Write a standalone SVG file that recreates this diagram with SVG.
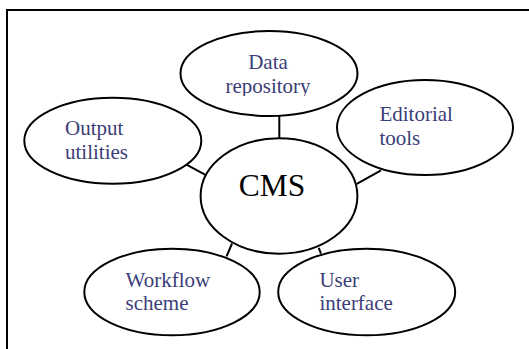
<svg xmlns="http://www.w3.org/2000/svg" width="529" height="349" viewBox="0 0 529 349">
<style>
.n{fill:#fff;stroke:#000;stroke-width:2}
.t{font-size:21px;fill:#3b3e78}
.c{stroke:#000;stroke-width:2;fill:none}
</style>
<defs><clipPath id="clipData"><rect x="180" y="30" width="180" height="66"/></clipPath></defs>
<rect x="0" y="0" width="529" height="349" fill="#fff"/>
<path d="M7 349 V10 H529" fill="none" stroke="#000" stroke-width="2"/>
<g id="connectors">
<line class="c" x1="279.3" y1="116" x2="279.3" y2="138.5"/>
<line class="c" x1="186.5" y1="164.6" x2="206.4" y2="175.4"/>
<line class="c" x1="381" y1="170.3" x2="356.8" y2="183.8"/>
<line class="c" x1="232" y1="243.5" x2="226.6" y2="256.3"/>
<line class="c" x1="318.7" y1="247.9" x2="321" y2="253.6"/>
</g>
<g font-family="Liberation Serif, Times New Roman, serif">
<g id="data">
<ellipse class="n" cx="269" cy="73.5" rx="88.5" ry="42.5"/>
<g clip-path="url(#clipData)">
<text class="t" x="268" y="68.5" text-anchor="middle">Data</text>
<text class="t" x="268" y="93" text-anchor="middle">repository</text>
</g>
</g>
<g id="editorial">
<ellipse class="n" cx="425" cy="127.5" rx="88" ry="47.5"/>
<text class="t" x="379.4" y="120.7">Editorial</text>
<text class="t" x="379.4" y="145">tools</text>
</g>
<g id="output">
<ellipse class="n" cx="112.8" cy="140.8" rx="88.5" ry="43"/>
<text class="t" x="65" y="135">Output</text>
<text class="t" x="65" y="158.5">utilities</text>
</g>
<g id="cms">
<ellipse class="n" cx="279" cy="196" rx="78.4" ry="57.7"/>
<text x="272" y="195.6" text-anchor="middle" font-size="31.5" fill="#000">CMS</text>
</g>
<g id="workflow">
<ellipse class="n" cx="172" cy="292" rx="87.7" ry="43.3"/>
<text class="t" x="125.5" y="286.7">Workflow</text>
<text class="t" x="125.5" y="310.3">scheme</text>
</g>
<g id="user">
<ellipse class="n" cx="366.7" cy="292" rx="88.5" ry="43.3"/>
<text class="t" x="319.4" y="286.7">User</text>
<text class="t" x="319.4" y="310.3">interface</text>
</g>
</g>
</svg>
